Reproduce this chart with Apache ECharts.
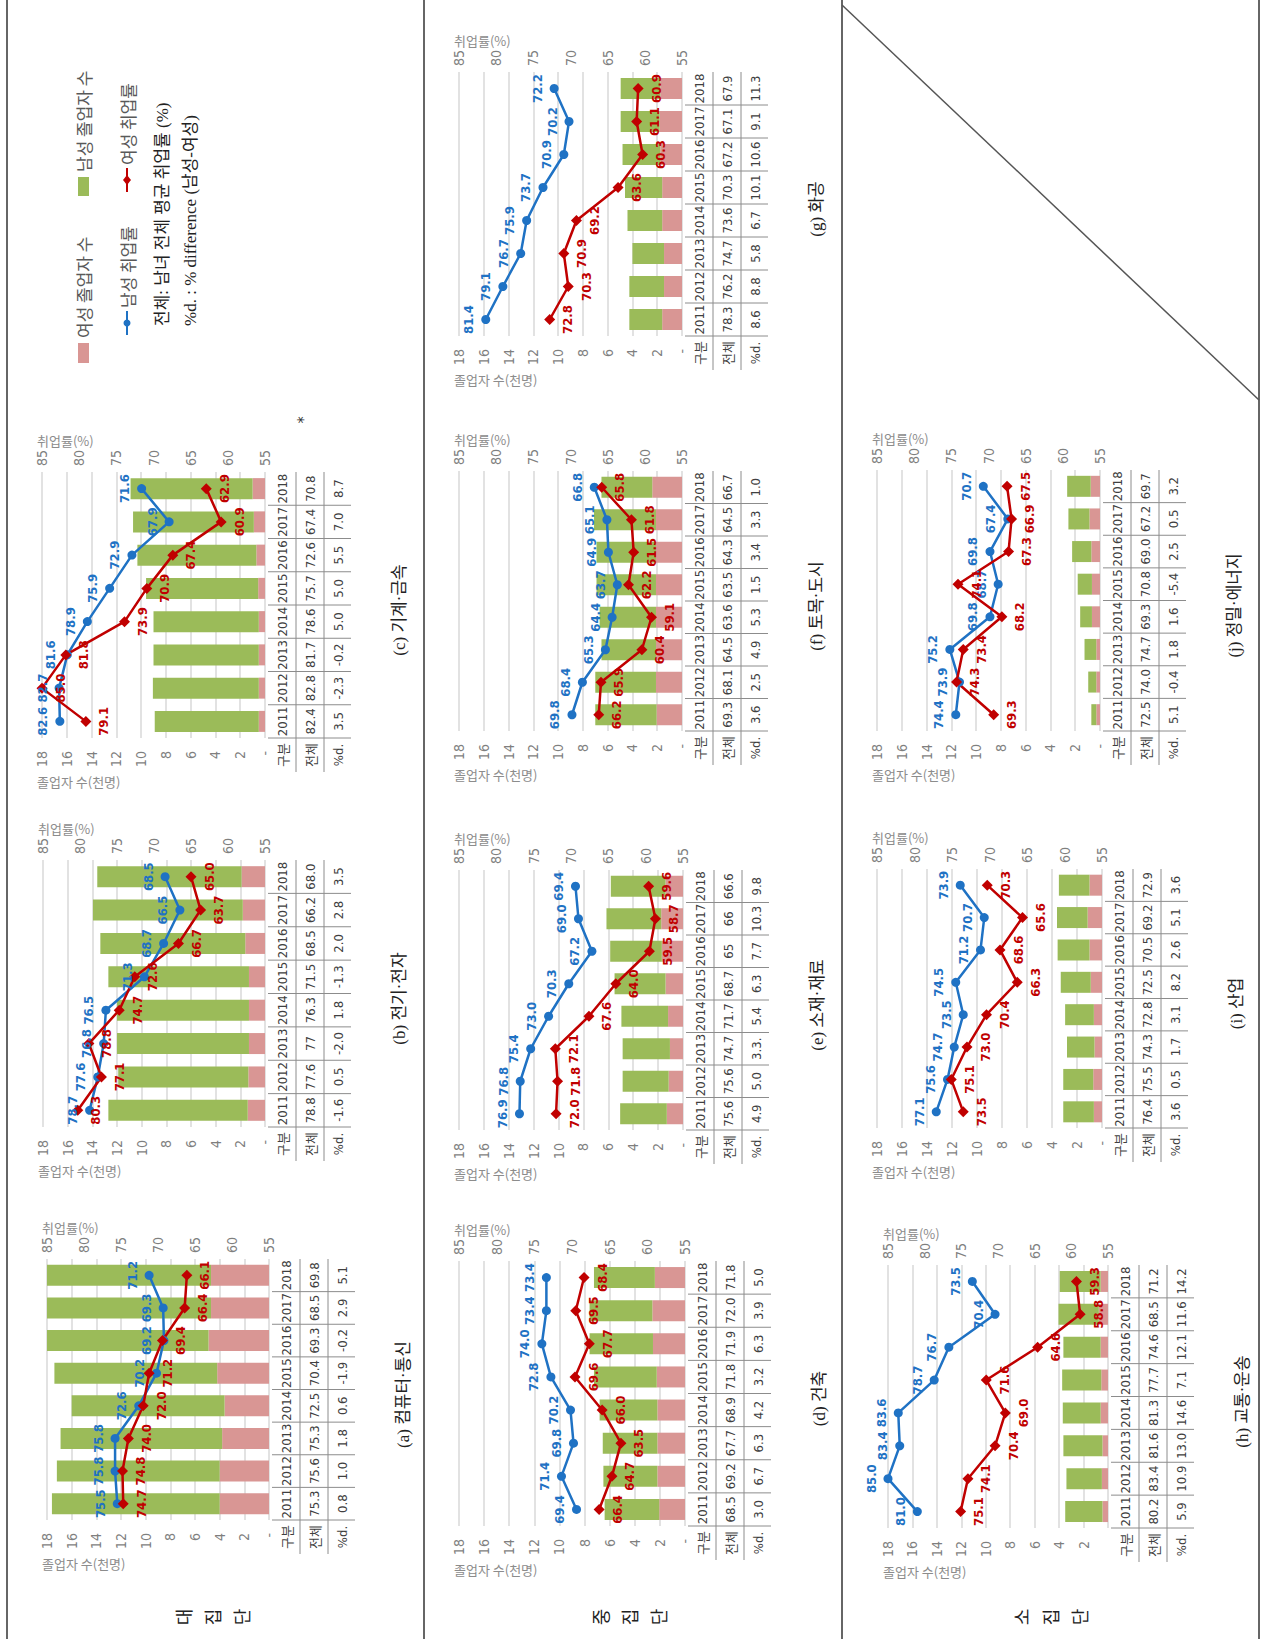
<!DOCTYPE html>
<html>
<head>
<meta charset="utf-8">
<script src="https://cdn.jsdelivr.net/npm/echarts@6/dist/echarts.min.js"></script>
<style>
    html, body { margin: 0; padding: 0; background: #fff; overflow: hidden; }
    #main { width: 1261px; height: 1639px; }
</style>
</head>
<body>
<div id="main"></div>
<script>
// ---- data ----
var years = ['2011', '2012', '2013', '2014', '2015', '2016', '2017', '2018'];
var panelTitles = ['(a) 컴퓨터·통신', '(b) 전기·전자', '(c) 기계·금속', '(d) 건축', '(e) 소재·재료',
    '(f) 토목·도시', '(g) 화공', '(h) 교통·운송', '(i) 산업', '(j) 정밀·에너지'];
var groupNames = ['대집단', '중집단', '소집단'];

// graduates, thousands (female segment, male segment)
var femaleGrads = [
    [4.0, 4.0, 3.8, 3.6, 4.2, 4.9, 4.7, 4.7],
    [1.4, 1.35, 1.3, 1.3, 1.3, 1.6, 1.8, 1.9],
    [0.5, 0.5, 0.5, 0.5, 0.55, 0.7, 0.9, 1.0],
    [2.05, 2.2, 2.2, 2.2, 2.25, 2.55, 2.6, 2.4],
    [1.3, 1.15, 1.05, 1.2, 1.4, 1.7, 1.75, 1.4],
    [2.05, 2.1, 2.1, 2.1, 2.1, 2.1, 2.1, 2.4],
    [1.6, 1.45, 1.45, 1.6, 1.6, 1.75, 1.8, 1.75],
    [0.45, 0.5, 0.45, 0.6, 0.55, 0.6, 0.75, 0.6],
    [0.65, 0.7, 0.6, 0.65, 0.9, 1.0, 1.15, 1.0],
    [0.3, 0.3, 0.3, 0.65, 0.65, 0.7, 0.85, 0.75]
];
var maleGrads = [
    [13.6, 13.2, 13.1, 12.4, 13.2, 13.1, 13.3, 13.3],
    [11.3, 10.55, 10.7, 10.7, 11.4, 11.75, 12.15, 11.7],
    [8.4, 8.55, 8.5, 8.5, 9.05, 9.6, 9.75, 9.85],
    [4.35, 4.3, 4.35, 4.6, 5.0, 5.05, 5.0, 4.85],
    [3.75, 3.7, 3.8, 3.75, 4.1, 4.15, 4.4, 4.4],
    [4.95, 4.9, 4.4, 4.55, 4.8, 4.8, 5.0, 4.1],
    [2.65, 2.8, 2.55, 2.8, 3.0, 3.05, 3.15, 3.2],
    [3.05, 2.9, 3.2, 3.1, 3.2, 3.05, 3.3, 3.35],
    [2.45, 2.4, 2.2, 2.3, 2.4, 2.55, 2.45, 2.45],
    [0.4, 0.65, 0.95, 0.95, 1.15, 1.55, 1.7, 1.9]
];
// employment rates, %
var maleRates = [
    [75.5, 75.8, 75.8, 72.6, 70.2, 69.2, 69.3, 71.2],
    [78.7, 77.6, 76.8, 76.5, 71.3, 68.7, 66.5, 68.5],
    [82.6, 82.7, 81.6, 78.9, 75.9, 72.9, 67.9, 71.6],
    [69.4, 71.4, 69.8, 70.2, 72.8, 74.0, 73.4, 73.4],
    [76.9, 76.8, 75.4, 73.0, 70.3, 67.2, 69.0, 69.4],
    [69.8, 68.4, 65.3, 64.4, 63.7, 64.9, 65.1, 66.8],
    [81.4, 79.1, 76.7, 75.9, 73.7, 70.9, 70.2, 72.2],
    [81.0, 85.0, 83.4, 83.6, 78.7, 76.7, 70.4, 73.5],
    [77.1, 75.6, 74.7, 73.5, 74.5, 71.2, 70.7, 73.9],
    [74.4, 73.9, 75.2, 69.8, 68.7, 69.8, 67.4, 70.7]
];
var femaleRates = [
    [74.7, 74.8, 74.0, 72.0, 71.2, 69.4, 66.4, 66.1],
    [80.3, 77.1, 78.8, 74.7, 72.6, 66.7, 63.7, 65.0],
    [79.1, 85.0, 81.8, 73.9, 70.9, 67.4, 60.9, 62.9],
    [66.4, 64.7, 63.5, 66.0, 69.6, 67.7, 69.5, 68.4],
    [72.0, 71.8, 72.1, 67.6, 64.0, 59.5, 58.7, 59.6],
    [66.2, 65.9, 60.4, 59.1, 62.2, 61.5, 61.8, 65.8],
    [72.8, 70.3, 70.9, 69.2, 63.6, 60.3, 61.1, 60.9],
    [75.1, 74.1, 70.4, 69.0, 71.6, 64.6, 58.8, 59.3],
    [73.5, 75.1, 73.0, 70.4, 66.3, 68.6, 65.6, 70.3],
    [69.3, 74.3, 73.4, 68.2, 74.1, 67.3, 66.9, 67.5]
];
// table rows, as printed
var totalRates = [
    ['75.3', '75.6', '75.3', '72.5', '70.4', '69.3', '68.5', '69.8'],
    ['78.8', '77.6', '77', '76.3', '71.5', '68.5', '66.2', '68.0'],
    ['82.4', '82.8', '81.7', '78.6', '75.7', '72.6', '67.4', '70.8'],
    ['68.5', '69.2', '67.7', '68.9', '71.8', '71.9', '72.0', '71.8'],
    ['75.6', '75.6', '74.7', '71.7', '68.7', '65', '66', '66.6'],
    ['69.3', '68.1', '64.5', '63.6', '63.5', '64.3', '64.5', '66.7'],
    ['78.3', '76.2', '74.7', '73.6', '70.3', '67.2', '67.1', '67.9'],
    ['80.2', '83.4', '81.6', '81.3', '77.7', '74.6', '68.5', '71.2'],
    ['76.4', '75.5', '74.3', '72.8', '72.5', '70.5', '69.2', '72.9'],
    ['72.5', '74.0', '74.7', '69.3', '70.8', '69.0', '67.2', '69.7']
];
var diffRates = [
    ['0.8', '1.0', '1.8', '0.6', '-1.9', '-0.2', '2.9', '5.1'],
    ['-1.6', '0.5', '-2.0', '1.8', '-1.3', '2.0', '2.8', '3.5'],
    ['3.5', '-2.3', '-0.2', '5.0', '5.0', '5.5', '7.0', '8.7'],
    ['3.0', '6.7', '6.3', '4.2', '3.2', '6.3', '3.9', '5.0'],
    ['4.9', '5.0', '3.3.', '5.4', '6.3', '7.7', '10.3', '9.8'],
    ['3.6', '2.5', '4.9', '5.3', '1.5', '3.4', '3.3', '1.0'],
    ['8.6', '8.8', '5.8', '6.7', '10.1', '10.6', '9.1', '11.3'],
    ['5.9', '10.9', '13.0', '14.6', '7.1', '12.1', '11.6', '14.2'],
    ['3.6', '0.5', '1.7', '3.1', '8.2', '2.6', '5.1', '3.6'],
    ['5.1', '-0.4', '1.8', '1.6', '-5.4', '2.5', '0.5', '3.2']
];

// ---- layout: [count18 x, count0 x, top y (2018 side), bottom y (2011 side)] ----
var panelBoxes = [
    [47, 269, 1259, 1520],
    [43, 265, 860, 1127],
    [42, 265, 472, 738],
    [459, 685, 1261, 1526],
    [459, 683, 870, 1130],
    [459, 682, 471, 731],
    [459, 682, 72, 336],
    [888, 1108, 1265, 1528],
    [877, 1102, 869, 1128],
    [877, 1100, 470, 731]
];

var PINK = '#d99694', GREEN = '#9bbb59', BLUE = '#1f72c4', RED = '#c00000';
var NUM_FONT = "'Liberation Sans Narrow', 'DejaVu Sans Condensed', 'Liberation Sans', 'Noto Sans CJK KR', sans-serif";
var KR_FONT = "'Noto Sans CJK KR', sans-serif";
var SERIF_FONT = "'Liberation Serif', 'Noto Sans CJK KR', serif";
var R90 = Math.PI / 2;

function rotText(x, y, text, size, color, family, align, weight) {
    align = align || 'center';
    return {
        type: 'text', x: x, y: y, rotation: R90, silent: true,
        style: {
            text: text, fill: color, fontSize: size, fontFamily: family, fontWeight: weight || 'normal',
            align: align, verticalAlign: 'middle', textAlign: align, textVerticalAlign: 'middle'
        }
    };
}

function flatText(x, y, text, size, color, family) {
    return {
        type: 'text', x: x, y: y, silent: true,
        style: {
            text: text, fill: color, fontSize: size, fontFamily: family,
            align: 'left', verticalAlign: 'middle', textAlign: 'left', textVerticalAlign: 'middle'
        }
    };
}

function rule(x1, y1, x2, y2, color, width) {
    return {
        type: 'line', silent: true,
        shape: {x1: x1, y1: y1, x2: x2, y2: y2},
        style: {stroke: color, lineWidth: width}
    };
}

function fmt1(p) {
    return Number(p.value).toFixed(1);
}

var grids = [], xAxes = [], yAxes = [], series = [], graphics = [];

panelBoxes.forEach(function (b, k) {
    var x0 = b[0], x1 = b[1], y0 = b[2], y1 = b[3];
    var band = (y1 - y0) / years.length;
    var noDash = (k === 7);

    grids.push({left: x0, top: y0, width: x1 - x0, height: y1 - y0, containLabel: false, outerBoundsMode: 'none'});
    yAxes.push({
        type: 'category', gridIndex: k, data: years,
        axisLine: {show: false}, axisTick: {show: false}, axisLabel: {show: false}, splitLine: {show: false}
    });
    // graduates axis (bottom of the rotated panel)
    xAxes.push({
        type: 'value', gridIndex: k, position: 'bottom', inverse: true, min: 0, max: 18, interval: 2,
        axisLine: {show: false}, axisTick: {show: false},
        splitLine: {show: true, lineStyle: {color: '#d9d9d9', width: 1.5}},
        axisLabel: {
            rotate: 90, margin: 13, color: '#7f7f7f', fontSize: 14, fontFamily: NUM_FONT,
            formatter: function (v) { return v === 0 ? (noDash ? '' : '-') : String(v); }
        }
    });
    // employment rate axis (top of the rotated panel)
    xAxes.push({
        type: 'value', gridIndex: k, position: 'top', inverse: true, min: 55, max: 85, interval: 5,
        axisLine: {show: false}, axisTick: {show: false}, splitLine: {show: false},
        axisLabel: {rotate: -90, margin: 6, color: '#7f7f7f', fontSize: 14, fontFamily: NUM_FONT}
    });

    series.push({
        type: 'bar', name: '여성 졸업자 수', xAxisIndex: 2 * k, yAxisIndex: k, stack: 'grad' + k,
        barWidth: 21, itemStyle: {color: PINK}, data: femaleGrads[k], silent: true
    });
    series.push({
        type: 'bar', name: '남성 졸업자 수', xAxisIndex: 2 * k, yAxisIndex: k, stack: 'grad' + k,
        barWidth: 21, itemStyle: {color: GREEN}, data: maleGrads[k], silent: true
    });
    series.push({
        type: 'line', name: '남성 취업률', xAxisIndex: 2 * k + 1, yAxisIndex: k, data: maleRates[k],
        symbol: 'circle', symbolSize: 9, itemStyle: {color: BLUE}, lineStyle: {color: BLUE, width: 2.5},
        label: {
            show: true, position: 'left', distance: 6, rotate: 90, align: 'center', verticalAlign: 'bottom',
            color: BLUE, fontSize: 13, fontWeight: 'bold', fontFamily: NUM_FONT, formatter: fmt1
        },
        silent: true
    });
    series.push({
        type: 'line', name: '여성 취업률', xAxisIndex: 2 * k + 1, yAxisIndex: k, data: femaleRates[k],
        symbol: 'diamond', symbolSize: 11, itemStyle: {color: RED}, lineStyle: {color: RED, width: 2.5},
        label: {
            show: true, position: 'right', distance: 6, rotate: 90, align: 'center', verticalAlign: 'top',
            color: RED, fontSize: 13, fontWeight: 'bold', fontFamily: NUM_FONT, formatter: fmt1
        },
        silent: true
    });

    // data table to the right of each panel
    for (var i = 0; i < years.length; i++) {
        var yy = y1 - i * band;
        graphics.push(rule(x1 + 3, yy, x1 + 86, yy, '#8c8c8c', 1));
        var cy = y1 - (i + 0.5) * band;
        graphics.push(rotText(x1 + 17, cy, years[i], 13, '#404040', NUM_FONT));
        graphics.push(rotText(x1 + 45, cy, totalRates[k][i], 13, '#404040', NUM_FONT));
        graphics.push(rotText(x1 + 73, cy, diffRates[k][i], 13, '#404040', NUM_FONT));
    }
    graphics.push(rule(x1 + 31, y0, x1 + 31, y1 + 34, '#8c8c8c', 1));
    graphics.push(rule(x1 + 59, y0, x1 + 59, y1 + 34, '#8c8c8c', 1));
    graphics.push(rotText(x1 + 17, y1 + 17, '구분', 13, '#404040', KR_FONT));
    graphics.push(rotText(x1 + 45, y1 + 17, '전체', 13, '#404040', KR_FONT));
    graphics.push(rotText(x1 + 73, y1 + 17, '%d.', 13, '#404040', NUM_FONT));

    // axis titles and caption
    graphics.push(flatText(x0 - 5, y0 - 32, '취업률(%)', 13, '#8c8c8c', KR_FONT));
    graphics.push(flatText(x0 - 5, y1 + 43, '졸업자 수(천명)', 13, '#8c8c8c', KR_FONT));
    graphics.push(rotText(x1 + 134, (y0 + y1) / 2 + 5, panelTitles[k], 17, '#222222', SERIF_FONT));
});

// group labels along the bottom edge
var groupX = [185, 602, 1023];
groupNames.forEach(function (name, c) {
    name.split('').forEach(function (ch, j) {
        graphics.push(rotText(groupX[c] + j * 29, 1617, ch, 18, '#222222', SERIF_FONT));
    });
});

// page frame and the empty diagonal cell
[7, 424, 842, 1259].forEach(function (x) {
    graphics.push(rule(x, 0, x, 1639, '#666666', 2));
});
graphics.push(rule(842, 5, 1259, 400, '#555555', 1.5));
graphics.push(rotText(303, 420, '*', 16, '#333333', NUM_FONT));

// legend block (rotated like the rest of the page)
graphics.push({type: 'rect', silent: true, shape: {x: 78, y: 343, width: 11, height: 20}, style: {fill: PINK}});
graphics.push(rotText(83, 338, '여성 졸업자 수', 17, '#595959', KR_FONT, 'left'));
graphics.push({type: 'rect', silent: true, shape: {x: 78, y: 177, width: 11, height: 19}, style: {fill: GREEN}});
graphics.push(rotText(83, 172, '남성 졸업자 수', 17, '#595959', KR_FONT, 'left'));
graphics.push(rule(127, 335, 127, 311, BLUE, 2));
graphics.push({type: 'circle', silent: true, shape: {cx: 127, cy: 323, r: 3.5}, style: {fill: BLUE}});
graphics.push(rotText(127, 308, '남성 취업률', 17, '#595959', KR_FONT, 'left'));
graphics.push(rule(127, 192, 127, 168, RED, 2));
graphics.push({
    type: 'polygon', silent: true,
    shape: {points: [[127, 175], [131, 180], [127, 185], [123, 180]]}, style: {fill: RED}
});
graphics.push(rotText(127, 165, '여성 취업률', 17, '#595959', KR_FONT, 'left'));
graphics.push(rotText(162, 326, '전체: 남녀 전체 평균 취업률 (%)', 17, '#222222', SERIF_FONT, 'left'));
graphics.push(rotText(190, 326, '%d. : % difference (남성-여성)', 17, '#222222', SERIF_FONT, 'left'));

var myChart = echarts.init(document.getElementById('main'), null, {renderer: 'svg'});
myChart.setOption({
    animation: false,
    backgroundColor: '#ffffff',
    grid: grids,
    xAxis: xAxes,
    yAxis: yAxes,
    series: series,
    graphic: {elements: graphics}
});
</script>
</body>
</html>
